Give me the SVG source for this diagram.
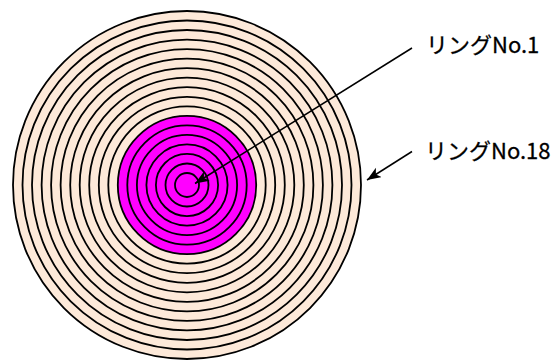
<svg xmlns="http://www.w3.org/2000/svg" width="560" height="361" viewBox="0 0 560 361">
<style>
.ring{stroke:#000;stroke-width:1.8}
.outer{fill:#FDE9D9}
.inner{fill:#FF00FF}
.lbl{font-family:"Noto Sans CJK JP","Noto Sans",sans-serif;font-size:22px;fill:#000;stroke:#000;stroke-width:0.3}
.conn{stroke:#000;stroke-width:1.5;fill:none}
</style>
<defs>
<marker id="arr" markerUnits="userSpaceOnUse" markerWidth="16" markerHeight="12" refX="14" refY="5.5" orient="auto">
<path d="M0,0 L14,5.5 L0,11 L3.5,5.5 Z" fill="#000"/>
</marker>
</defs>
<rect width="560" height="361" fill="#fff"/>
<g id="rings">
<g id="ring-18"><circle class="ring outer" cx="187" cy="185" r="174"/></g>
<g id="ring-17"><circle class="ring outer" cx="187" cy="185" r="164.5"/></g>
<g id="ring-16"><circle class="ring outer" cx="187" cy="185" r="155"/></g>
<g id="ring-15"><circle class="ring outer" cx="187" cy="185" r="145.4"/></g>
<g id="ring-14"><circle class="ring outer" cx="187" cy="185" r="135.9"/></g>
<g id="ring-13"><circle class="ring outer" cx="187" cy="185" r="126.4"/></g>
<g id="ring-12"><circle class="ring outer" cx="187" cy="185" r="116.8"/></g>
<g id="ring-11"><circle class="ring outer" cx="187" cy="185" r="107.3"/></g>
<g id="ring-10"><circle class="ring outer" cx="187" cy="185" r="97.8"/></g>
<g id="ring-9"><circle class="ring outer" cx="187" cy="185" r="88.2"/></g>
<g id="ring-8"><circle class="ring outer" cx="187" cy="185" r="78.7"/></g>
<g id="ring-7"><circle class="ring inner" cx="187" cy="185" r="69.2"/></g>
<g id="ring-6"><circle class="ring inner" cx="187" cy="185" r="59.7"/></g>
<g id="ring-5"><circle class="ring inner" cx="187" cy="185" r="50.1"/></g>
<g id="ring-4"><circle class="ring inner" cx="187" cy="185" r="40.6"/></g>
<g id="ring-3"><circle class="ring inner" cx="187" cy="185" r="31.1"/></g>
<g id="ring-2"><circle class="ring inner" cx="187" cy="185" r="21.5"/></g>
<g id="ring-1"><circle class="ring inner" cx="187" cy="185" r="12"/></g>
</g>
<g id="connectors">
<line class="conn" x1="412" y1="48" x2="195" y2="183.5" marker-end="url(#arr)"/>
<line class="conn" x1="412" y1="151.5" x2="367" y2="180" marker-end="url(#arr)"/>
</g>
<g id="label-1"><text class="lbl" x="426" y="52.5">リングNo.1</text></g>
<g id="label-18"><text class="lbl" x="425" y="158.5">リングNo.18</text></g>
</svg>
